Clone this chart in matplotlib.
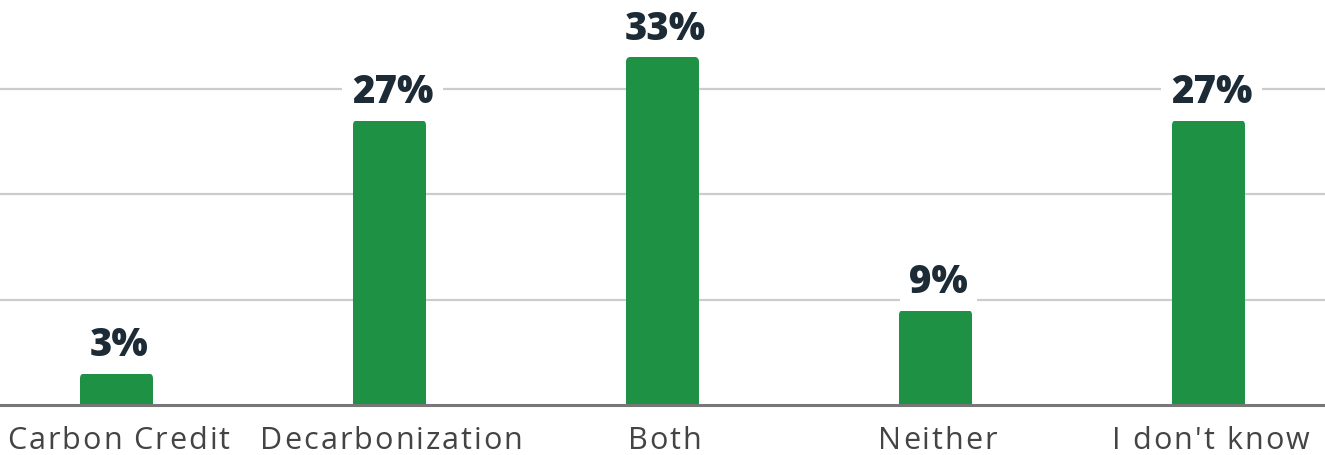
import matplotlib
matplotlib.use("Agg")
import matplotlib.pyplot as plt
from matplotlib.patches import FancyBboxPatch

categories = ["Carbon Credit", "Decarbonization", "Both", "Neither", "I don't know"]
values = [3, 27, 33, 9, 27]
value_labels = ["3%", "27%", "33%", "9%", "27%"]
grid_values = [10, 20, 30]

BAR = "#1e9145"
LABEL = "#1c2b36"
CAT = "#444444"

fig = plt.figure(figsize=(13.25, 4.56), dpi=100)
ax = fig.add_axes([0, 50 / 456, 1, 406 / 456])
xmin, xmax = -0.4267, 4.4267
ax.set_xlim(xmin, xmax)
ymax = 406 / 10.55
ax.set_ylim(0, ymax)
ax.axis("off")

for g in grid_values:
    ax.axhline(g, color="#cccccc", lw=1.6, zorder=0)

width = 73 / 273
px_x = (xmax - xmin) / 1325
px_y = ymax / 406
r = 5
for i, v in enumerate(values):
    p = FancyBboxPatch((i - width / 2, -2), width, v + 2,
                       boxstyle=f"round,pad=0,rounding_size={r * px_x}",
                       mutation_aspect=px_y / px_x,
                       fc=BAR, ec="none", zorder=2, clip_on=True)
    ax.add_patch(p)
    ax.text(i + 3 * px_x, v + 18 * px_y, value_labels[i], ha="center", va="baseline",
            fontsize=27.5, fontweight=800, family="Open Sans", color=LABEL,
            zorder=3,
            bbox=dict(boxstyle="square,pad=0.25", fc="white", ec="none"))

ax.axhline(0, color="#777777", lw=2.2, zorder=4, clip_on=False)

# category labels with letter spacing
renderer = fig.canvas.get_renderer()
cat_kw = dict(fontsize=22, family="Open Sans", color=CAT)
spacing = 2.0  # pixels between letters
baseline_y = 1 - 449 / 456


def text_w(s):
    t = fig.text(0, 0, s + "|", **cat_kw)
    w = t.get_window_extent(renderer).width
    t.remove()
    return w


bar_w = text_w("")
for i, s in enumerate(categories):
    offsets = [text_w(s[:k]) - bar_w + k * spacing for k in range(len(s) + 1)]
    total = offsets[-1] - spacing
    cx = (i - xmin) / (xmax - xmin) * 1325 + 2
    left = cx - total / 2
    for k, ch in enumerate(s):
        if ch == " ":
            continue
        fig.text((left + offsets[k]) / 1325, baseline_y, ch, ha="left",
                 va="baseline", **cat_kw)

fig.savefig("out.png", dpi=100, facecolor="white")
